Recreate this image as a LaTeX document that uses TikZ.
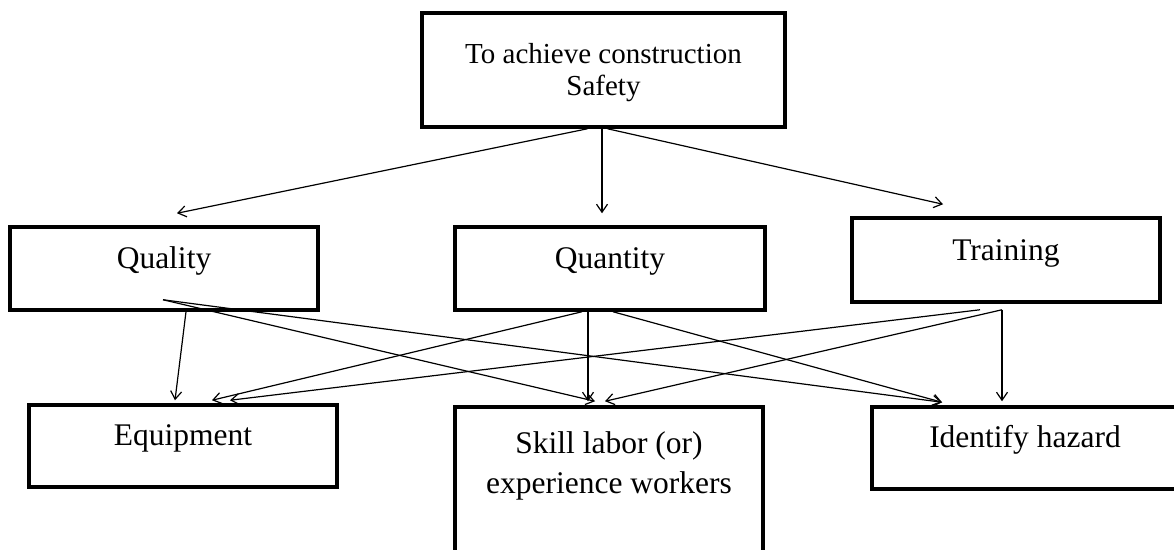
\documentclass[tikz,border=0pt]{standalone}
\usepackage{fontspec}
\setmainfont{Liberation Serif}
\usetikzlibrary{arrows.meta,positioning}

\begin{document}
\begin{tikzpicture}[
    x=1pt, y=-1pt,
    box/.style={rectangle, draw, line width=3.5pt, inner sep=0pt, anchor=base, align=center, font=\fontsize{31.5}{40}\selectfont},
    goalbox/.style={box, font=\fontsize{29}{32}\selectfont},
    arrow/.style={-{Straight Barb[length=8pt,width=11pt]}, line width=1.2pt}
]
\useasboundingbox (0,0) rectangle (1174,549);

% Goal
\node[goalbox, minimum width=363pt, text height=82pt, text depth=32pt] (goal) at (603.5,95) {To achieve construction\\Safety};

% Middle row
\node[box, minimum width=308pt, text height=41pt, text depth=42pt] (quality) at (164,268) {Quality};
\node[box, minimum width=310pt, text height=41pt, text depth=42pt] (quantity) at (610,268) {Quantity};
\node[box, minimum width=308pt, text height=42pt, text depth=42pt] (training) at (1006,260) {Training};

% Bottom row
\node[box, minimum width=308pt, text height=40pt, text depth=42pt] (equipment) at (183,445) {Equipment};
\node[box, minimum width=308pt, text height=86pt, text depth=80pt] (skill) at (609,493) {Skill labor (or)\\experience workers};
\node[box, minimum width=306pt, text height=40pt, text depth=42pt] (hazard) at (1025,447) {Identify hazard};

% Arrows from goal
\draw[arrow] ([xshift=-16pt]goal.south) -- ([xshift=13pt,yshift=12pt]quality.north);
\draw[arrow] ([xshift=-1.5pt]goal.south) -- ([xshift=-8pt,yshift=12pt]quantity.north);
\draw[arrow] ([xshift=4pt]goal.south) -- ([xshift=-63pt,yshift=12pt]training.north);

% Arrows from quality
\draw[arrow] ([xshift=22pt]quality.south) -- ([xshift=-8pt,yshift=3pt]equipment.north);
\draw[arrow] ([xshift=-1pt,yshift=12pt]quality.south) -- ([xshift=-14pt,yshift=4pt]skill.north);
\draw[arrow] ([xshift=-1pt,yshift=12pt]quality.south) -- ([xshift=-83pt,yshift=3pt]hazard.north);

% Arrows from quantity
\draw[arrow] ([xshift=-28pt]quantity.south) -- ([xshift=29pt,yshift=3pt]equipment.north);
\draw[arrow] ([xshift=-22pt]quantity.south) -- ([xshift=-21pt,yshift=4pt]skill.north);
\draw[arrow] ([xshift=3pt]quantity.south) -- ([xshift=-83pt,yshift=3pt]hazard.north);

% Arrows from training
\draw[arrow] ([xshift=-26pt,yshift=-6pt]training.south) -- ([xshift=47pt,yshift=3pt]equipment.north);
\draw[arrow] ([xshift=-4pt,yshift=-6pt]training.south) -- ([xshift=-4pt,yshift=4pt]skill.north);
\draw[arrow] ([xshift=-4pt,yshift=-6pt]training.south) -- ([xshift=-23pt,yshift=4pt]hazard.north);

\end{tikzpicture}
\end{document}
